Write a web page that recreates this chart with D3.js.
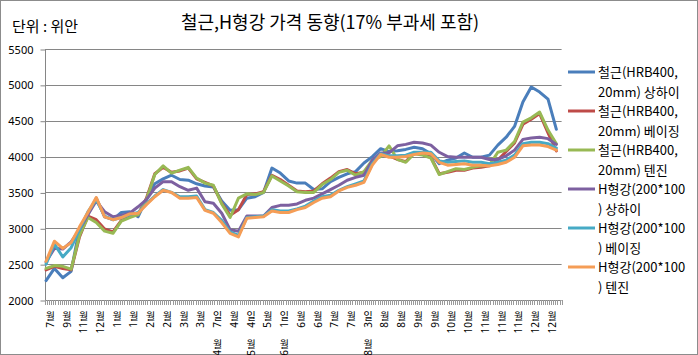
<!DOCTYPE html>
<html><head><meta charset="utf-8">
<script src="https://cdn.jsdelivr.net/npm/d3@7"></script>
<style>
body{margin:0;background:#fff;}
svg{display:block;font-family:"Noto Sans CJK KR","Noto Sans",sans-serif;}
</style>
</head><body>
<svg id="c" width="698" height="355"></svg>
<script>
// ---- data ----
const xLabels = ["7월","9월","11월","12월","1월","1월","2월","2월","3월","3월","4월 7일","4월","5월 4일","5월","6월 1일",
  "6월","6월","7월","7월","8월 3일","8월","8월","9월","9월","10월","10월","11월","11월","11월","12월","12월"];
const yTicks = [2000,2500,3000,3500,4000,4500,5000,5500];
const seriesNames = [
  ["철근(HRB400,","20mm) 상하이"],
  ["철근(HRB400,","20mm) 베이징"],
  ["철근(HRB400,","20mm) 텐진"],
  ["H형강(200*100",") 상하이"],
  ["H형강(200*100",") 베이징"],
  ["H형강(200*100",") 텐진"]
];
const rebarShanghai = [2270,2440,2310,2400,3000,3190,3420,3160,3120,3220,
 3230,3160,3410,3620,3690,3740,3680,3670,3620,3590,
 3575,3380,3250,3260,3420,3440,3500,3840,3770,3660,
 3630,3630,3540,3550,3650,3710,3760,3790,3910,4000,
 4110,4070,4080,4100,4130,4110,4040,3900,3950,3980,
 4050,3990,3990,4020,4160,4270,4420,4760,4970,4900,
 4800,4380];
const rebarBeijing = [2420,2470,2440,2420,2880,3170,3120,2990,2950,3110,
 3170,3190,3420,3760,3850,3780,3800,3840,3690,3640,
 3590,3350,3180,3260,3470,3480,3510,3740,3680,3600,
 3520,3510,3520,3620,3700,3790,3820,3760,3780,3930,
 4030,4010,3960,3930,4050,4030,3990,3760,3780,3810,
 3810,3840,3850,3870,3950,4070,4190,4450,4520,4600,
 4330,4080];
const rebarTianjin = [2440,2480,2470,2430,2900,3150,3080,2960,2930,3100,
 3150,3190,3400,3750,3870,3770,3810,3850,3700,3630,
 3600,3340,3150,3420,3480,3470,3500,3730,3660,3590,
 3510,3500,3500,3610,3680,3780,3810,3740,3790,3950,
 4000,4150,3960,3920,4040,4020,3980,3750,3790,3830,
 3820,3850,3870,3880,4060,4090,4210,4480,4540,4620,
 4370,4180];
const hbeamShanghai = [2530,2720,2710,2810,2980,3190,3380,3230,3160,3180,
 3210,3300,3400,3560,3650,3650,3580,3530,3560,3370,
 3350,3210,2980,2960,3170,3170,3170,3290,3320,3320,
 3340,3390,3420,3480,3540,3600,3670,3710,3740,3950,
 4050,4050,4150,4170,4200,4190,4160,4060,4000,3990,
 3990,3990,3990,3960,3960,4010,4090,4240,4260,4270,
 4250,4170];
const hbeamBeijing = [2500,2780,2600,2730,2980,3230,3400,3170,3120,3150,
 3190,3220,3340,3450,3540,3500,3440,3440,3450,3260,
 3220,3110,2950,2900,3150,3160,3170,3260,3240,3240,
 3270,3310,3380,3440,3460,3530,3580,3620,3660,3900,
 4040,4010,4010,4020,4060,4060,4060,3940,3920,3930,
 3940,3920,3920,3900,3920,3950,4020,4180,4200,4200,
 4180,4120];
const hbeamTianjin = [2540,2820,2720,2800,3020,3220,3430,3160,3120,3150,
 3200,3210,3330,3440,3530,3500,3420,3420,3430,3250,
 3210,3080,2930,2880,3140,3150,3160,3240,3220,3220,
 3260,3290,3360,3420,3440,3520,3570,3600,3640,3880,
 4030,3990,3990,4000,4030,4050,4040,3920,3880,3890,
 3900,3880,3880,3870,3890,3920,3990,4150,4160,4160,
 4140,4090];
const seriesValues = [rebarShanghai, rebarBeijing, rebarTianjin, hbeamShanghai, hbeamBeijing, hbeamTianjin];
const colors = ["#4A7EBB","#BE4B48","#98B954","#7D60A0","#46AAC5","#F59D56"];

// ---- layout ----
const svg = d3.select("#c");
const W = 698, H = 355;
const pL = 45, pR = 561.6, pT = 49, pB = 300;
const nCats = 247, catsPerPoint = 4, catsPerLabel = 8, firstLabelCat = 2;
const x = d3.scaleLinear().domain([0, nCats]).range([pL, pR]);
const y = d3.scaleLinear().domain([2000, 5500]).range([pB, pT]);

svg.append("rect").attr("x",0.5).attr("y",0.5).attr("width",W-1).attr("height",H-1)
  .attr("fill","#fff").attr("stroke","#8c8c8c");

// gridlines
svg.append("g").selectAll("line").data(yTicks.slice(1)).join("line")
  .attr("x1", pL).attr("x2", pR).attr("y1", d=>Math.round(y(d))+0.5).attr("y2", d=>Math.round(y(d))+0.5)
  .attr("stroke","#868686").attr("stroke-width",1);

// y axis
const yAxis = d3.axisLeft(y).tickValues(yTicks).tickSize(5).tickPadding(7).tickFormat(d3.format("d"));
const gy = svg.append("g").attr("transform",`translate(${pL+0.5},0.5)`).call(yAxis);
gy.select(".domain").attr("stroke","#868686").attr("d",`M0,${pT}V${pB}`);
gy.selectAll(".tick line").attr("stroke","#868686");
gy.selectAll(".tick text").attr("font-size","11px").attr("fill","#000")
  .attr("font-family",'"Noto Sans","Noto Sans CJK KR",sans-serif');

// x axis line + minor ticks
svg.append("line").attr("x1",pL).attr("x2",pR).attr("y1",pB+0.5).attr("y2",pB+0.5)
  .attr("stroke","#868686");
svg.append("g").selectAll("line").data(d3.range(0, nCats+1)).join("line")
  .attr("x1", d=>Math.round(x(d))+0.5).attr("x2", d=>Math.round(x(d))+0.5)
  .attr("y1", pB).attr("y2", pB+5)
  .attr("stroke","#9a9a9a").attr("stroke-width",1);

// x labels: digits rotated -90, Korean upright, reading bottom-to-top
const lg = svg.append("g");
xLabels.forEach((lab, j) => {
  const cx = x(firstLabelCat + catsPerLabel*j + 0.5);
  const parts = lab.split(" ").reverse();
  parts.forEach((p, pi) => {
    const y0 = 311 + pi*28;
    const kor = p.slice(-1), dig = p.slice(0, -1);
    lg.append("text").attr("x", cx).attr("y", y0 + 8.5).attr("text-anchor","middle")
      .attr("font-size","10px").attr("fill","#000").text(kor);
    lg.append("text").attr("transform",`translate(${cx+3.6},${y0+11}) rotate(-90)`)
      .attr("text-anchor","end").attr("font-size","10px").attr("fill","#000")
      .attr("font-family",'"Noto Sans",sans-serif').text(dig);
  });
});

// lines
const line = d3.line().x((d,i)=>x(0.5 + catsPerPoint*i)).y(d=>y(d));
seriesValues.forEach((vals, si) => {
  svg.append("path").datum(vals).attr("d", line).attr("fill","none")
    .attr("stroke", colors[si]).attr("stroke-width",3)
    .attr("stroke-linejoin","round").attr("stroke-linecap","round");
});

// titles
svg.append("text").attr("x",330).attr("y",29).attr("text-anchor","middle")
  .attr("font-size","18px").attr("fill","#000").text("철근,H형강 가격 동향(17% 부과세 포함)");
svg.append("text").attr("x",12).attr("y",32).attr("font-size","15px").attr("fill","#000").text("단위 : 위안");

// legend
const leg = svg.append("g");
seriesNames.forEach((nm, i) => {
  const cy = 72 + 39*i;
  leg.append("line").attr("x1",568).attr("x2",595).attr("y1",cy).attr("y2",cy)
    .attr("stroke",colors[i]).attr("stroke-width",3);
  leg.append("text").attr("x",598).attr("y",cy+5).attr("font-size","13px").attr("fill","#000").text(nm[0]);
  leg.append("text").attr("x",598).attr("y",cy+24.5).attr("font-size","13px").attr("fill","#000").text(nm[1]);
});
</script>
</body></html>
